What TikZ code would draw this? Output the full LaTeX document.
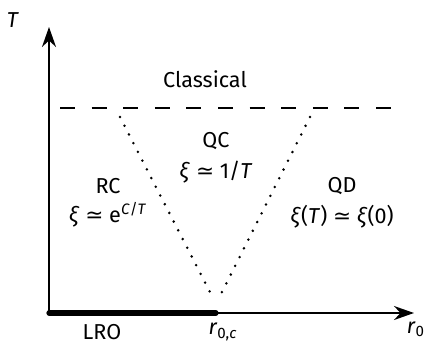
\documentclass[tikz,border=0pt]{standalone}
\usepackage{fontspec}
\setmainfont{Fira Sans}
\newfontfamily\symfont{DejaVu Sans}
\usepackage{tikz}
\usetikzlibrary{
	arrows.meta,
	positioning
}
\newcommand{\simsym}{{\symfont\char"2243}}

\begin{document}
\begin{tikzpicture}[x=0.5pt, y=0.5pt, font=\fontsize{10.8}{13}\selectfont, inner sep=1pt,
	axis/.style={line width=1pt, -{Stealth[length=10pt, width=7pt]}},
	lro/.style={line width=2.6pt, line cap=round},
	crossover/.style={line width=1.4pt, dash pattern=on 0pt off 4.9pt, line cap=round},
	classical/.style={line width=1.3pt, dash pattern=on 7.5pt off 8.3pt}]
			\useasboundingbox (0,0) rectangle (427,343);
			\coordinate (O) at (49,30);
			\coordinate (xend) at (414,30);
			\coordinate (yend) at (49,316);
			\coordinate (rc) at (216,30);
			\coordinate (rcl) at (214,43);
			\coordinate (rcr) at (218,43);
			\coordinate (dl) at (60,235);
			\coordinate (dr) at (392,235);
			\coordinate (vl) at (120,226);
			\coordinate (vr) at (310,226);
			\draw[axis] (O) -- (xend);
			\draw[axis] (O) -- (yend);
			\draw[lro] (O) -- (rc);
			\draw[classical] (dl) -- (dr);
			\draw[crossover] (vl) -- (rcl);
			\draw[crossover] (vr) -- (rcr);
			\node (tlab) at (13,323) {\textit{T}};
			\node (rlab) at (416,14) {\textit{r}\textsubscript{0}};
			\node (lro) at (102,11) {LRO};
			\node (rclab) at (223,11) {\textit{r}\textsubscript{0,\textit{c}}};
			\node (cl) at (205,264) {Classical};
			\node (qc) at (216,202) {QC};
			\node (qcxi) at (216,171) {\textit{ξ} \simsym{} 1/\textit{T}};
			\node (rcn) at (108,157) {RC};
			\node (rcxi) at (108,128) {\textit{ξ} \simsym{} e\textsuperscript{\textit{C}/\textit{T}}};
			\node (qd) at (342,157) {QD};
			\node (qdxi) at (342,126) {\textit{ξ}(\textit{T}) \simsym{} \textit{ξ}(0)};
		\end{tikzpicture}
\end{document}
